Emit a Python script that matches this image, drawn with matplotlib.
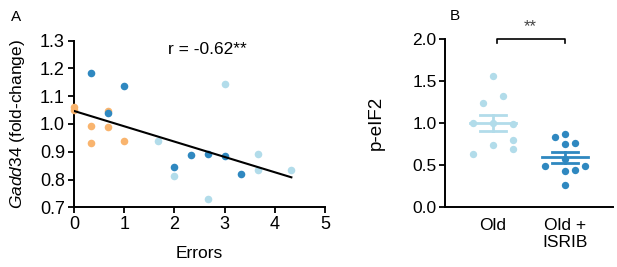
import numpy as np
import matplotlib
matplotlib.use('Agg')
import matplotlib.pyplot as plt

plt.rcParams['font.family'] = ['Liberation Sans', 'DejaVu Sans']
plt.rcParams['mathtext.fontset'] = 'custom'
plt.rcParams['mathtext.it'] = 'Liberation Sans:italic'
plt.rcParams['mathtext.rm'] = 'Liberation Sans'

# panel A data (errors vs Gadd34)
orange_x = [0, 0, 0.33, 0.33, 0.67, 0.67, 1.0]
orange_y = [1.062, 1.05, 0.993, 0.933, 0.988, 1.046, 0.938]
dark_x = [0.33, 1.0, 0.67, 2.0, 2.33, 2.67, 3.0, 3.33]
dark_y = [1.185, 1.137, 1.039, 0.845, 0.887, 0.891, 0.885, 0.819]
light_x = [3.0, 1.67, 2.0, 2.67, 3.67, 3.67, 4.33]
light_y = [1.144, 0.938, 0.814, 0.730, 0.891, 0.836, 0.836]
fit_x = [0, 4.33]
fit_intercept = 1.047
fit_slope = -0.0552
r_text = 'r = -0.62**'

# panel B data (p-eIF2)
groups = ['Old', 'Old +\nISRIB']
old_vals = [1.561, 1.323, 1.243, 0.996, 1.004, 0.988, 0.797, 0.741, 0.693, 0.63]
old_jit = [0, 0.14, -0.14, -0.28, 0, 0.28, 0.28, 0, 0.28, -0.28]
isrib_vals = [0.836, 0.869, 0.749, 0.765, 0.49, 0.57, 0.43, 0.44, 0.49, 0.26]
isrib_jit = [-0.14, 0, 0, 0.14, -0.28, 0, 0, 0.14, 0.28, 0]

c_orange = '#F9B46E'
c_light = '#B2DCEA'
c_dark = '#2F88C0'

fig = plt.figure(figsize=(6.17, 2.67), dpi=100)
W, H = 617, 267

axA = fig.add_axes([74/W, 1-207.3/H, (325-74)/W, (207.3-40.7)/H])
axA.scatter(orange_x, orange_y, s=30, color=c_orange, zorder=3, linewidths=0, clip_on=False)
axA.scatter(light_x, light_y, s=30, color=c_light, zorder=3, linewidths=0, clip_on=False)
axA.scatter(dark_x, dark_y, s=30, color=c_dark, zorder=4, linewidths=0, clip_on=False)
fx = np.array(fit_x)
axA.plot(fx, fit_intercept + fit_slope*fx, color='black', lw=1.5, zorder=5)
axA.text(2.65, 1.27, r_text, ha='center', va='center', fontsize=12.5)
axA.set_xlim(0, 5)
axA.set_ylim(0.7, 1.3)
axA.set_xticks([0, 1, 2, 3, 4, 5])
axA.set_yticks([0.7, 0.8, 0.9, 1.0, 1.1, 1.2, 1.3])
axA.set_yticklabels(['0.7', '0.8', '0.9', '1.0', '1.1', '1.2', '1.3'])
axA.set_xlabel('Errors', fontsize=12.5, labelpad=9)
axA.set_ylabel(r'$\it{Gadd34}$ (fold-change)', fontsize=12.5)
axA.yaxis.set_label_coords(-0.187, 0.5)
axA.spines['top'].set_visible(False)
axA.spines['right'].set_visible(False)
for s in ['left', 'bottom']:
    axA.spines[s].set_linewidth(1.4)
axA.tick_params(width=1.3, length=4, labelsize=13, pad=2.5)
fig.text(16/W, 1-17/H, 'A', fontsize=11, ha='center', va='center')

axB = fig.add_axes([445/W, 1-206.7/H, (613-445)/W, (206.7-39.3)/H])
axB.scatter(np.array(old_jit) + 0, old_vals, s=28, color=c_light, linewidths=0, zorder=3)
axB.scatter(np.array(isrib_jit) + 1, isrib_vals, s=28, color=c_dark, linewidths=0, zorder=3)
for i, (vals, col) in enumerate([(old_vals, c_light), (isrib_vals, c_dark)]):
    m = np.mean(vals)
    sem = np.std(vals, ddof=1) / np.sqrt(len(vals))
    axB.plot([i-0.32, i+0.32], [m, m], color=col, lw=2, zorder=4)
    axB.plot([i, i], [m-sem, m+sem], color=col, lw=2, zorder=4)
    axB.plot([i-0.18, i+0.18], [m+sem, m+sem], color=col, lw=2, zorder=4)
    axB.plot([i-0.18, i+0.18], [m-sem, m-sem], color=col, lw=2, zorder=4)
axB.plot([0.05, 0.05, 1.0, 1.0], [1.95, 2.0, 2.0, 1.95], color='black', lw=1.2, clip_on=False)
axB.text(0.52, 2.15, '**', ha='center', va='center', fontsize=12, color='#444444')
axB.set_xlim(-0.67, 1.67)
axB.set_ylim(0, 2.0)
axB.set_xticks([0, 1])
axB.set_xticklabels(groups, fontsize=12.5, linespacing=1.15, va='top')
axB.tick_params(axis='x', length=0, pad=8)
axB.set_yticks([0, 0.5, 1.0, 1.5, 2.0])
axB.set_yticklabels(['0.0', '0.5', '1.0', '1.5', '2.0'])
axB.tick_params(axis='y', width=1.3, length=4, labelsize=12.5, pad=2)
axB.set_ylabel('p-eIF2', fontsize=13.5)
axB.yaxis.set_label_coords(-0.357, 0.5)
axB.spines['top'].set_visible(False)
axB.spines['right'].set_visible(False)
for s in ['left', 'bottom']:
    axB.spines[s].set_linewidth(1.4)
fig.text(455/W, 1-16/H, 'B', fontsize=11, ha='center', va='center')

fig.savefig('out.png', dpi=100)
